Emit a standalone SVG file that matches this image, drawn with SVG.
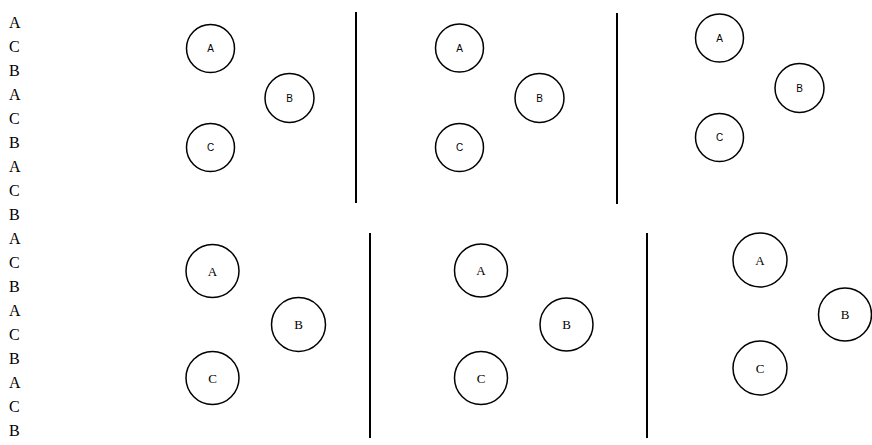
<svg xmlns="http://www.w3.org/2000/svg" width="872" height="445" viewBox="0 0 872 445">
<style>
.list{font-family:"Liberation Serif",serif;font-size:16px;fill:#000}
.n circle{fill:none;stroke:#000;stroke-width:1.5}
.n text{font-family:"Liberation Sans",sans-serif;font-size:10px;text-anchor:middle;dominant-baseline:central;fill:#000}
.m circle{fill:none;stroke:#000;stroke-width:1.5}
.m text{font-family:"Liberation Serif",serif;font-size:13px;text-anchor:middle;dominant-baseline:central;fill:#000}
.div line{stroke:#000;stroke-width:2}
</style>
<rect width="872" height="445" fill="#fff"/>
<g id="list" class="list">
<text x="9" y="28">A</text><text x="9" y="52">C</text><text x="9" y="76">B</text>
<text x="9" y="100">A</text><text x="9" y="124">C</text><text x="9" y="148">B</text>
<text x="9" y="172">A</text><text x="9" y="196">C</text><text x="9" y="220">B</text>
<text x="9" y="244">A</text><text x="9" y="268">C</text><text x="9" y="292">B</text>
<text x="9" y="316">A</text><text x="9" y="340">C</text><text x="9" y="364">B</text>
<text x="9" y="388">A</text><text x="9" y="412">C</text><text x="9" y="436">B</text>
</g>
<g id="connectors" class="div">
<line x1="356" y1="12" x2="356" y2="203"/>
<line x1="617" y1="13" x2="617" y2="204"/>
<line x1="370" y1="233" x2="370" y2="438"/>
<line x1="647" y1="233" x2="647" y2="438"/>
</g>
<g id="p1A" class="n"><circle cx="210.5" cy="48.5" r="24"/><text x="210.5" y="48.5">A</text></g>
<g id="p1B" class="n"><circle cx="289.5" cy="98" r="24.5"/><text x="289.5" y="98">B</text></g>
<g id="p1C" class="n"><circle cx="210.5" cy="147.5" r="24"/><text x="210.5" y="147.5">C</text></g>
<g id="p2A" class="n"><circle cx="459.5" cy="48" r="24"/><text x="459.5" y="48">A</text></g>
<g id="p2B" class="n"><circle cx="539.5" cy="98" r="24.5"/><text x="539.5" y="98">B</text></g>
<g id="p2C" class="n"><circle cx="459.5" cy="147.5" r="24"/><text x="459.5" y="147.5">C</text></g>
<g id="p3A" class="n"><circle cx="719.5" cy="38" r="24"/><text x="719.5" y="38">A</text></g>
<g id="p3B" class="n"><circle cx="799.5" cy="88" r="24.5"/><text x="799.5" y="88">B</text></g>
<g id="p3C" class="n"><circle cx="719.5" cy="137.5" r="24"/><text x="719.5" y="137.5">C</text></g>
<g id="p4A" class="m"><circle cx="212.5" cy="271" r="26.5"/><text x="212.5" y="271">A</text></g>
<g id="p4B" class="m"><circle cx="298.5" cy="324.5" r="27"/><text x="298.5" y="324.5">B</text></g>
<g id="p4C" class="m"><circle cx="212.5" cy="378" r="26.5"/><text x="212.5" y="378">C</text></g>
<g id="p5A" class="m"><circle cx="481" cy="270.5" r="26.5"/><text x="481" y="270.5">A</text></g>
<g id="p5B" class="m"><circle cx="566.5" cy="324.5" r="26.5"/><text x="566.5" y="324.5">B</text></g>
<g id="p5C" class="m"><circle cx="481" cy="378" r="26.5"/><text x="481" y="378">C</text></g>
<g id="p6A" class="m"><circle cx="760" cy="260" r="27"/><text x="760" y="260">A</text></g>
<g id="p6B" class="m"><circle cx="845" cy="314.5" r="26.5"/><text x="845" y="314.5">B</text></g>
<g id="p6C" class="m"><circle cx="760" cy="368" r="27"/><text x="760" y="368">C</text></g>
</svg>
